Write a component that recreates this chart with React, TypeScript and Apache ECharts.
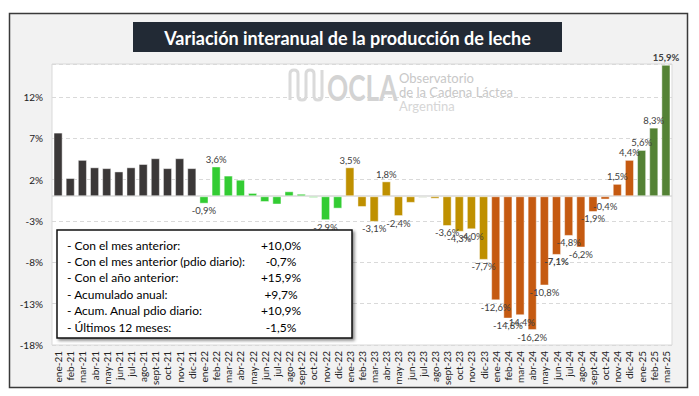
import React, { useEffect, useRef } from "react";
import * as echarts from "echarts";

const categories = [
  "ene-21","feb-21","mar-21","abr-21","may-21","jun-21","jul-21","ago-21","sept-21","oct-21","nov-21","dic-21",
  "ene-22","feb-22","mar-22","abr-22","may-22","jun-22","jul-22","ago-22","sept-22","oct-22","nov-22","dic-22",
  "ene-23","feb-23","mar-23","abr-23","may-23","jun-23","jul-23","ago-23","sept-23","oct-23","nov-23","dic-23",
  "ene-24","feb-24","mar-24","abr-24","may-24","jun-24","jul-24","ago-24","sept-24","oct-24","nov-24","dic-24",
  "ene-25","feb-25","mar-25",
];

const values = [
  7.7, 2.2, 4.4, 3.5, 3.4, 3.0, 3.5, 3.9, 4.6, 3.4, 4.6, 3.4,
  -0.9, 3.6, 2.5, 2.0, 0.4, -0.7, -1.0, 0.6, 0.3, -0.2, -2.9, -1.5,
  3.5, -1.3, -3.1, 1.8, -2.4, -0.8, -0.2, -0.3, -3.6, -4.3, -4.0, -7.7,
  -12.6, -14.8, -14.4, -16.2, -10.8, -7.1, -4.8, -6.2, -1.9, -0.4, 1.5, 4.4,
  5.6, 8.3, 15.9,
];

const labeled = [
  "ene-22","feb-22","nov-22","ene-23","mar-23","abr-23","may-23","sept-23","oct-23","nov-23","dic-23",
  "ene-24","feb-24","mar-24","abr-24","may-24","jun-24","jul-24","ago-24","sept-24","oct-24","nov-24","dic-24",
  "ene-25","feb-25","mar-25",
];
const boldLabels = ["jun-24", "mar-25"];

const yearColors: Record<string, string> = {
  "21": "#3b3838",
  "22": "#33cc33",
  "23": "#bf9000",
  "24": "#c55a11",
  "25": "#548235",
};
const specialColors: Record<string, string> = { "jul-23": "#a3b595" };

const yTicks = [-18, -13, -8, -3, 2, 7, 12];

const summaryLabels = [
  "- Con el mes anterior:",
  "- Con el mes anterior (pdio diario):",
  "- Con el año anterior:",
  "- Acumulado anual:",
  "- Acum. Anual pdio diario:",
  "- Últimos 12 meses:",
];
const summaryValues = ["+10,0%", "-0,7%", "+15,9%", "+9,7%", "+10,9%", "-1,5%"];

const TITLE = "Variación interanual de la producción de leche";
const FONT = "Lato, 'Noto Sans', sans-serif";

const logoPath =
  "M0,30 L0,4 Q0,0 4,0 Q8,0 8,4 L8,26 Q8,30 12,30 Q16,30 16,26 L16,4 Q16,0 20,0 Q24,0 24,4 L24,26 Q24,30 28,30 Q32,30 32,26 L32,0";

export default function App() {
  const ref = useRef<HTMLDivElement>(null);
  useEffect(() => {
    document.body.style.margin = "0";
    if (!ref.current) return;
    try {
      echarts.graphic.registerShape("logo", echarts.graphic.extendPath(logoPath, {}) as any);
    } catch (e) {}
    const chart = echarts.init(ref.current, undefined, { renderer: "svg" });
    const fmt = (v: number) => v.toFixed(1).replace(".", ",") + "%";
    const data = values.map((v, i) => {
      const c = categories[i];
      const yr = c.slice(-2);
      const color = specialColors[c] || yearColors[yr];
      const show = labeled.includes(c);
      return {
        value: v,
        itemStyle: { color },
        label: {
          show,
          position: v >= 0 ? "top" : "bottom",
          distance: 2,
          formatter: () => fmt(v),
          fontWeight: boldLabels.includes(c) ? "bold" : "normal",
          color: "#404040",
          fontSize: 9.5,
          fontFamily: FONT,
        },
      };
    });

    const summaryTexts: any[] = [];
    summaryLabels.forEach((t, i) => {
      summaryTexts.push({
        type: "text",
        x: 67,
        y: 245 + i * 16.4,
        z: 101,
        style: { text: t, fill: "#000", font: `12px ${FONT}`, verticalAlign: "middle", textAlign: "left" },
      });
      summaryTexts.push({
        type: "text",
        x: 281,
        y: 245 + i * 16.4,
        z: 101,
        style: { text: summaryValues[i], fill: "#000", font: `12px ${FONT}`, verticalAlign: "middle", textAlign: "center" },
      });
    });

    chart.setOption({
      animation: false,
      backgroundColor: "#ffffff",
      grid: {
        left: 52,
        right: 27,
        top: 64,
        bottom: 51,
        show: true,
        backgroundColor: "#ffffff",
        borderColor: "#d9d9d9",
        borderWidth: 1,
        z: 0,
      },
      xAxis: {
        type: "category",
        data: categories,
        axisLine: { show: false, onZero: false },
        axisTick: { show: false },
        axisLabel: {
          interval: 0,
          rotate: 90,
          fontSize: 10,
          color: "#222",
          fontFamily: FONT,
          margin: 6,
        },
      },
      yAxis: {
        type: "value",
        min: -18,
        max: 16,
        interval: 5,
        axisLine: { show: false },
        axisTick: { show: false },
        axisLabel: {
          fontSize: 10,
          color: "#222",
          fontFamily: FONT,
          margin: 9,
          formatter: (v: number) => (yTicks.includes(Math.round(v)) && Math.abs(v - Math.round(v)) < 1e-6 ? `${v}%` : ""),
        },
        splitLine: { show: true, lineStyle: { color: "#d9d9d9", type: [4, 3], width: 1 } },
      },
      series: [
        {
          type: "bar",
          data,
          barCategoryGap: "25%",
          itemStyle: { borderColor: "rgba(255,255,255,0.45)", borderWidth: 1 },
          markLine: {
            silent: true,
            symbol: "none",
            label: { show: false },
            lineStyle: { color: "#d9d9d9", type: "solid", width: 1.5 },
            data: [{ yAxis: 0 }],
            z: 1,
          },
          z: 2,
        },
      ],
      graphic: [
        {
          type: "rect",
          z: -10,
          shape: { x: 9.5, y: 13.5, width: 678, height: 374 },
          style: { fill: "#f2f2f2", stroke: "#3a3a3a", lineWidth: 1.5 },
        },
        {
          type: "rect",
          z: 50,
          shape: { x: 133, y: 22, width: 429, height: 30 },
          style: { fill: "#222a35" },
        },
        {
          type: "text",
          z: 51,
          x: 347.5,
          y: 37.5,
          style: {
            text: TITLE,
            fill: "#ffffff",
            font: `bold 18px ${FONT}`,
            textAlign: "center",
            verticalAlign: "middle",
          },
        },
        {
          type: "logo",
          z: 1,
          x: 290,
          y: 70,
          scaleX: 1,
          scaleY: 1,
          style: { fill: null, stroke: "#dadada", lineWidth: 3 },
        },
        {
          type: "text",
          z: 1,
          x: 327,
          y: 87,
          scaleX: 0.71,
          scaleY: 1,
          style: { text: "OCLA", fill: "#d3d3d3", font: `bold 37px ${FONT}`, verticalAlign: "middle", textAlign: "left" },
        },
        {
          type: "text",
          z: 1,
          x: 399,
          y: 78,
          style: { text: "Observatorio", fill: "#c8c8c8", font: `13px ${FONT}`, verticalAlign: "middle" },
        },
        {
          type: "text",
          z: 1,
          x: 399,
          y: 92,
          style: { text: "de la Cadena Láctea", fill: "#c8c8c8", font: `13px ${FONT}`, verticalAlign: "middle" },
        },
        {
          type: "text",
          z: 1,
          x: 399,
          y: 106,
          style: { text: "Argentina", fill: "#d6d6d6", font: `13px ${FONT}`, verticalAlign: "middle" },
        },
        {
          type: "rect",
          z: 100,
          shape: { x: 57, y: 230, width: 295, height: 108 },
          style: {
            fill: "#ffffff",
            stroke: "#111",
            lineWidth: 1.5,
            shadowBlur: 3,
            shadowOffsetX: 2,
            shadowOffsetY: 2,
            shadowColor: "rgba(0,0,0,0.45)",
          },
        },
        ...summaryTexts,
      ],
    });
    return () => chart.dispose();
  }, []);
  return <div ref={ref} style={{ width: 699, height: 396 }} />;
}
